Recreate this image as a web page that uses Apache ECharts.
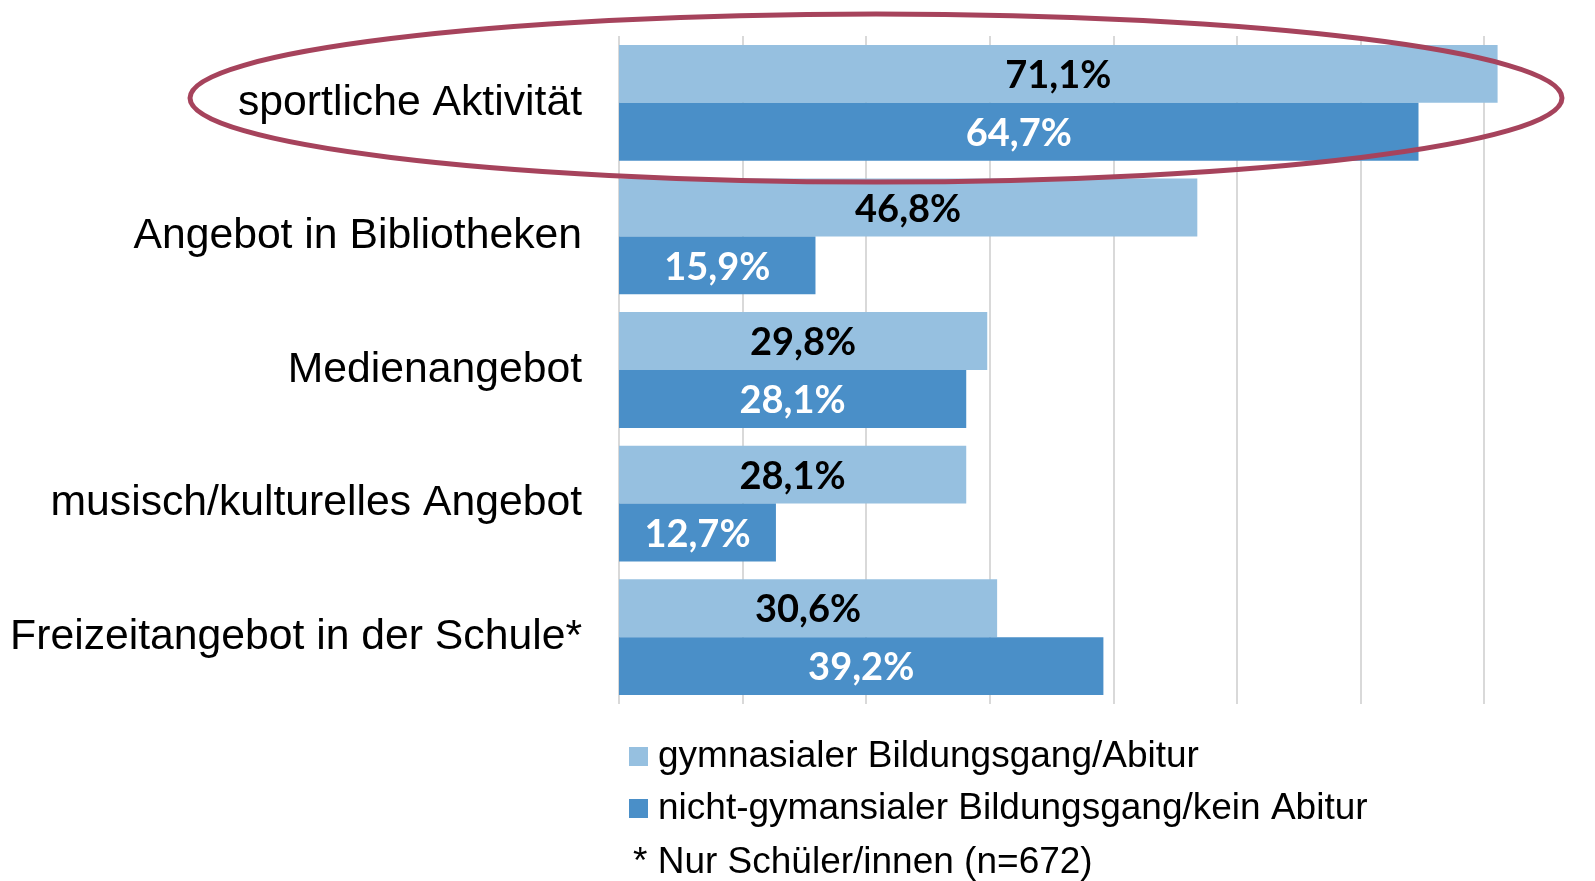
<!DOCTYPE html>
<html>
<head>
<meta charset="utf-8">
<script src="https://cdn.jsdelivr.net/npm/echarts@6/dist/echarts.min.js"></script>
<style>
  html, body { margin: 0; padding: 0; background: #fff; }
  #chart { width: 1595px; height: 881px; }
</style>
</head>
<body>
<div id="chart"></div>
<script>
// Kategorien von oben nach unten
const categories = [
  'sportliche Aktivität',
  'Angebot in Bibliotheken',
  'Medienangebot',
  'musisch/kulturelles Angebot',
  'Freizeitangebot in der Schule*'
];
const seriesNames = [
  'gymnasialer Bildungsgang/Abitur',
  'nicht-gymansialer Bildungsgang/kein Abitur'
];
const gymValues = [71.1, 46.8, 29.8, 28.1, 30.6];
const nichtGymValues = [64.7, 15.9, 28.1, 12.7, 39.2];
const footnote = '* Nur Schüler/innen (n=672)';

const fmt = p => p.value.toFixed(1).replace('.', ',') + '%';

const chart = echarts.init(document.getElementById('chart'));

chart.setOption({
  backgroundColor: '#ffffff',
  animation: false,
  grid: { left: 619, top: 36, width: 865, height: 668 },
  xAxis: {
    type: 'value',
    min: 0,
    max: 70,
    interval: 10,
    axisLabel: { show: false },
    axisLine: { show: false },
    axisTick: { show: false },
    splitLine: { lineStyle: { color: '#d9d9d9', width: 2 } }
  },
  yAxis: {
    type: 'category',
    data: categories,
    inverse: true,
    axisLine: { show: false },
    axisTick: { show: false },
    axisLabel: {
      margin: 37,
      color: '#000',
      fontFamily: 'Liberation Sans',
      fontSize: 42.7
    }
  },
  legend: {
    orient: 'vertical',
    left: 624,
    top: 733,
    itemWidth: 19,
    itemHeight: 19,
    itemGap: 15,
    icon: 'rect',
    textStyle: {
      color: '#000',
      fontFamily: 'Liberation Sans',
      fontSize: 37,
      lineHeight: 37,
      padding: [0, 0, 0, 5]
    },
    data: seriesNames
  },
  series: [
    {
      name: seriesNames[0],
      type: 'bar',
      data: gymValues,
      clip: false,
      barGap: '0%',
      barCategoryGap: '13.3%',
      itemStyle: { color: '#96c0e0' },
      label: {
        show: true,
        position: 'inside',
        offset: [0, 2],
        formatter: fmt,
        color: '#000',
        fontFamily: 'Lato',
        fontWeight: 'bold',
        fontSize: 38
      }
    },
    {
      name: seriesNames[1],
      type: 'bar',
      data: nichtGymValues,
      clip: false,
      barGap: '0%',
      barCategoryGap: '13.3%',
      itemStyle: { color: '#4a8fc8' },
      label: {
        show: true,
        position: 'inside',
        offset: [0, 2],
        formatter: fmt,
        color: '#fff',
        fontFamily: 'Lato',
        fontWeight: 'bold',
        fontSize: 38
      }
    }
  ],
  graphic: [
    {
      type: 'ellipse',
      shape: { cx: 876, cy: 98, rx: 686, ry: 84 },
      style: { fill: 'none', stroke: '#a6435c', lineWidth: 5 },
      z: 100
    },
    {
      type: 'text',
      left: 633,
      top: 844,
      style: {
        text: footnote,
        fill: '#000',
        font: '37px "Liberation Sans"'
      }
    }
  ]
});
</script>
</body>
</html>
